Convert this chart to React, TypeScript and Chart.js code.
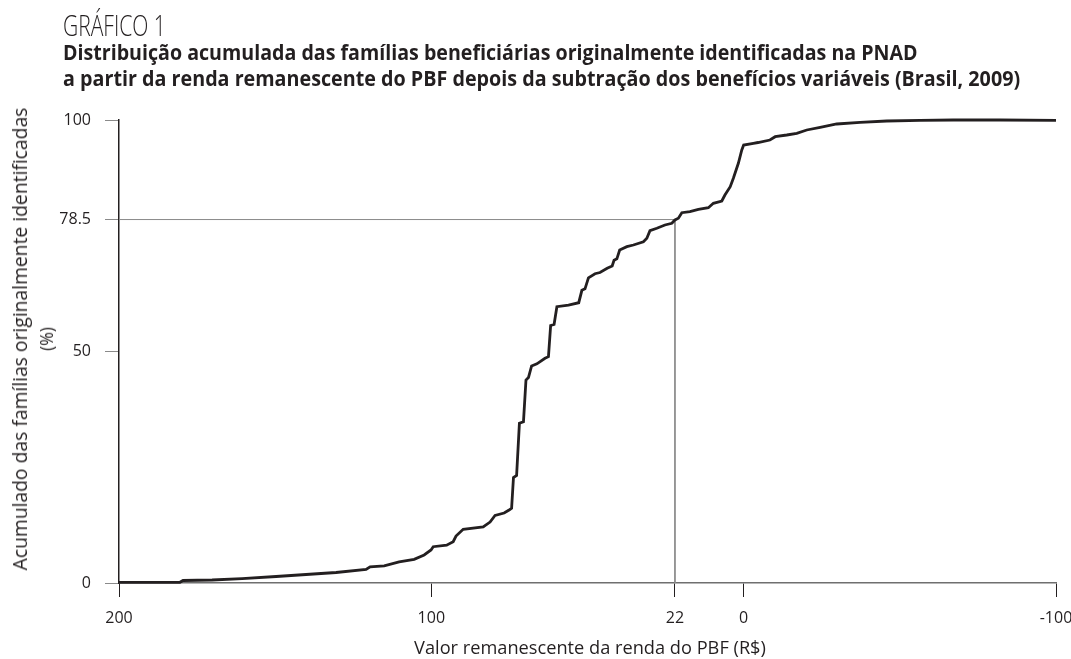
import React, { useEffect, useLayoutEffect, useRef } from 'react';
import { Chart, registerables } from 'chart.js';

Chart.register(...registerables);

// ---- data ----
const remainingIncome = [
  200, 180.5, 179.5, 170.2, 160.6, 149.7, 140.1, 130.5, 120.9, 119.6,
  115.1, 110.3, 105.5, 102.3, 100.1, 99.4, 95.1, 93.0, 92.1, 89.8,
  83.4, 81.2, 79.6, 76.7, 75.1, 74.3, 73.7, 72.7, 71.8, 70.5,
  69.7, 68.9, 67.9, 66.2, 63.6, 62.5, 61.8, 60.7, 59.8, 56.1,
  52.8, 51.8, 50.8, 49.7, 47.6, 46.0, 43.7, 42.1, 41.5, 40.6,
  39.7, 37.4, 35.3, 32.1, 31.0, 30.0, 27.8, 25.2, 23.0, 22.0,
  20.9, 19.8, 17.2, 14.5, 11.3, 9.7, 7.0, 6.0, 4.3, 3.3,
  1.7, 0.6, 0.0, -3.1, -4.6, -8.4, -10.1, -13.8, -17.0, -20.2,
  -24.5, -29.8, -37.3, -45.8, -56.5, -67.1, -82.1, -100,
];
const cumulativeShare = [
  0.15, 0.15, 0.54, 0.65, 0.93, 1.40, 1.84, 2.27, 2.92, 3.50,
  3.71, 4.54, 5.12, 6.05, 7.13, 7.84, 8.16, 8.92, 10.15, 11.60,
  12.10, 13.17, 14.58, 15.12, 15.77, 16.13, 22.79, 23.22, 34.49, 34.84,
  43.84, 44.38, 46.87, 47.34, 48.53, 48.88, 55.62, 55.83, 59.68, 60.04,
  60.54, 63.22, 63.54, 65.92, 66.80, 67.06, 67.97, 68.47, 69.70, 70.02,
  71.92, 72.64, 73.00, 73.71, 74.45, 76.09, 76.61, 77.32, 77.69, 78.40,
  78.77, 79.98, 80.19, 80.71, 81.06, 82.01, 82.51, 83.80, 85.59, 87.41,
  90.65, 93.52, 94.60, 94.97, 95.14, 95.68, 96.39, 96.76, 97.13, 97.84,
  98.42, 99.14, 99.50, 99.78, 99.91, 100.0, 100.0, 99.9,
];
const xTickValues = [200, 100, 22, 0, -100];
const yTickValues = [0, 50, 78.5, 100];
const referenceIncome = 22;
const referenceShare = 78.5;
const xMin = -100;
const xMax = 200;
const yMin = 0;
const yMax = 100;

const chartNumber = 'GRÁFICO 1';
const titleLines = [
  'Distribuição acumulada das famílias beneficiárias originalmente identificadas na PNAD',
  'a partir da renda remanescente do PBF depois da subtração dos benefícios variáveis (Brasil, 2009)',
];
const yAxisTitle = ['Acumulado das famílias originalmente identificadas', '(%)'];
const xAxisTitle = 'Valor remanescente da renda do PBF (R$)';

const INK = '#231f20';
const FONT = '"Open Sans", "Noto Sans", sans-serif';

type FitProps = {
  text: string;
  left: number;
  top: number;
  size: number;
  weight: number;
  target?: number;
  mode: 'left' | 'center' | 'rotate';
};

function FitText({ text, left, top, size, weight, target, mode }: FitProps) {
  const ref = useRef<HTMLDivElement>(null);
  useLayoutEffect(() => {
    const el = ref.current;
    if (!el) return;
    const natural = el.offsetWidth;
    const k = target ? target / natural : 1;
    if (mode === 'rotate') el.style.transform = `translate(-50%, -50%) rotate(-90deg) scaleX(${k})`;
    else if (mode === 'center') el.style.transform = `translate(-50%, 0) scaleX(${k})`;
    else el.style.transform = `scaleX(${k})`;
  }, [text, target, mode]);
  return (
    <div
      ref={ref}
      style={{
        position: 'absolute',
        left,
        top,
        fontFamily: FONT,
        fontSize: size,
        fontWeight: weight,
        lineHeight: `${size}px`,
        whiteSpace: 'nowrap',
        color: INK,
        transformOrigin: mode === 'left' ? 'left center' : 'center center',
      }}
    >
      {text}
    </div>
  );
}

export default function App() {
  const canvasRef = useRef<HTMLCanvasElement>(null);

  useEffect(() => {
    const canvas = canvasRef.current;
    if (!canvas) return;
    const chart = new Chart(canvas, {
      type: 'line',
      data: {
        datasets: [
          {
            data: remainingIncome.map((x, i) => ({ x, y: cumulativeShare[i] })),
            borderColor: INK,
            borderWidth: 2.8,
            pointRadius: 0,
            tension: 0,
            fill: false,
            clip: 8,
            order: 0,
          },
          {
            data: [
              { x: xMax, y: referenceShare },
              { x: referenceIncome, y: referenceShare },
              { x: referenceIncome, y: yMin },
            ],
            borderColor: '#8a8a8a',
            borderWidth: 1,
            pointRadius: 0,
            tension: 0,
            fill: false,
            order: 1,
          },
        ],
      },
      options: {
        responsive: false,
        animation: false,
        devicePixelRatio: 1,
        layout: { padding: { top: 120, right: 15, left: 0, bottom: 0 } },
        plugins: {
          legend: { display: false },
          tooltip: { enabled: false },
          title: { display: false },
        },
        scales: {
          x: {
            type: 'linear',
            reverse: true,
            min: xMin,
            max: xMax,
            afterBuildTicks: (s: any) => {
              s.ticks = xTickValues.map((v) => ({ value: v }));
            },
            afterFit: (s: any) => {
              s.height = 76;
              s.paddingLeft = 0;
              s.paddingRight = 0;
            },
            ticks: {
              font: { family: FONT, size: 16 },
              color: INK,
              padding: 12,
              maxRotation: 0,
              autoSkip: false,
              callback: (v: any) => String(v),
            },
            grid: {
              display: true,
              drawOnChartArea: false,
              drawTicks: true,
              tickLength: 14,
              color: INK,
              lineWidth: 1,
            },
            border: { display: true, color: '#6f6f6f', width: 1.5 },
            title: { display: false },
          },
          y: {
            type: 'linear',
            min: yMin,
            max: yMax,
            afterBuildTicks: (s: any) => {
              s.ticks = yTickValues.map((v) => ({ value: v }));
            },
            afterFit: (s: any) => {
              s.width = 119;
            },
            ticks: {
              font: { family: FONT, size: 16 },
              color: INK,
              padding: 14,
              autoSkip: false,
              callback: (v: any) => String(v),
            },
            grid: {
              display: true,
              drawOnChartArea: false,
              drawTicks: true,
              tickLength: 14,
              color: '#8a8a8a',
              lineWidth: 1,
            },
            border: { display: true, color: INK, width: 1.5 },
            title: { display: false },
          },
        },
      },
    } as any);
    return () => chart.destroy();
  }, []);

  return (
    <div
      style={{
        position: 'fixed',
        left: 0,
        top: 0,
        width: 1071,
        height: 659,
        background: '#ffffff',
        overflow: 'hidden',
      }}
    >
      <canvas ref={canvasRef} width={1071} height={659} style={{ position: 'absolute', left: 0, top: 0 }} />
      <FitText text={chartNumber} left={63} top={10} size={29} weight={300} target={103} mode="left" />
      <FitText text={titleLines[0]} left={63} top={42} size={21} weight={700} target={855} mode="left" />
      <FitText text={titleLines[1]} left={63} top={68} size={21} weight={700} target={957} mode="left" />
      <FitText text={yAxisTitle[0]} left={20.3} top={338.5} size={20} weight={400} target={463} mode="rotate" />
      <FitText text={yAxisTitle[1]} left={45.8} top={338.5} size={18} weight={400} target={24} mode="rotate" />
      <FitText text={xAxisTitle} left={590} top={638} size={18} weight={400} target={352} mode="center" />
    </div>
  );
}
